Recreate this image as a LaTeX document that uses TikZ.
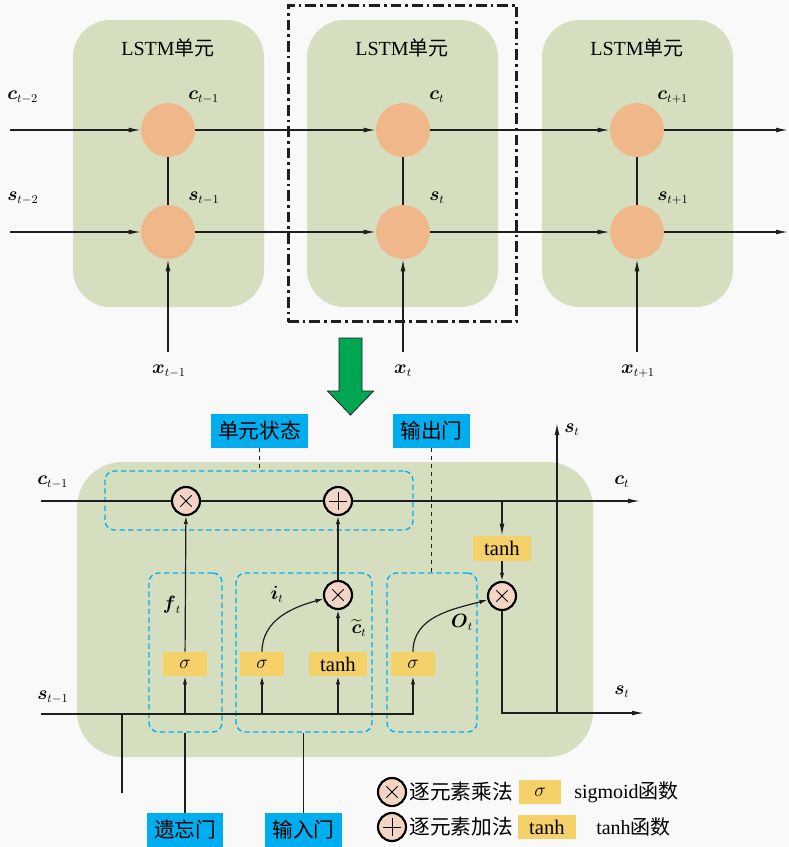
\documentclass[tikz,border=0pt]{standalone}
\usepackage{amsmath}
\usepackage{fontspec}
\setmainfont{Liberation Serif}
\newfontfamily\cjk{Noto Sans CJK SC}
\DeclareMathSizes{15}{15}{9}{7}
\usepackage{tikz}
\usetikzlibrary{positioning,arrows.meta,fit,calc}
\definecolor{cBack}{HTML}{F9F9F9}
\definecolor{cCell}{HTML}{D5DFBF}
\definecolor{cUnit}{HTML}{F0B88A}
\definecolor{cOp}  {HTML}{F2D5C4}
\definecolor{cGate}{HTML}{F5D16A}
\definecolor{cTag} {HTML}{00AEEF}
\definecolor{cArr} {HTML}{00A651}
\definecolor{cLine}{HTML}{1E1E1E}
\tikzset{
  >={Latex[length=9pt,width=3.6pt]},
  cbox/.style={fill=cCell,rounded corners=28pt,inner sep=0pt},
  focus/.style={draw=cLine,line width=2.3pt,dash pattern=on 8pt off 3pt on 2pt off 3pt},
  unit/.style={circle,fill=cUnit,minimum size=40.5pt,inner sep=0pt},
  opc/.style={circle,draw=black,line width=1.6pt,fill=cOp,minimum size=21pt,inner sep=0pt},
  omul/.style={opc,path picture={\draw[line width=0.6pt]
      (path picture bounding box.center) ++(45:6pt) -- ++(225:12pt)
      (path picture bounding box.center) ++(135:6pt) -- ++(-45:12pt);}},
  oadd/.style={opc,path picture={\draw[line width=0.7pt]
      (path picture bounding box.center) ++(0:6.5pt) -- ++(180:13pt)
      (path picture bounding box.center) ++(90:6.5pt) -- ++(270:13pt);}},
  gsig/.style={fill=cGate,minimum width=33pt,minimum height=18pt,inner sep=0pt,
               font=\fontsize{15}{16}\selectfont},
  gtanh/.style={gsig,minimum width=43.5pt,font=\fontsize{15.5}{16}\selectfont},
  gtag/.style={fill=cTag,minimum height=25.5pt,inner sep=0pt,
               font=\cjk\fontsize{15.5}{16}\selectfont},
  dbox/.style={draw=cTag,line width=1pt,dash pattern=on 4pt off 2.5pt,
               rounded corners=7pt,inner sep=0pt},
  lbl/.style={font=\fontsize{15}{16}\selectfont,inner sep=0pt},
  sar/.style={->,line width=0.9pt,cLine},
  sars/.style={sar,>={Latex[length=6pt,width=3.2pt]}},
  sln/.style={line width=0.9pt,cLine},
}
\begin{document}
\begin{tikzpicture}[x=0.75pt,y=-0.75pt]
  \useasboundingbox[fill=cBack] (0,0) rectangle (789,847);
  % chain of cells
  \node[cbox,fit={(73,20) (264,307)}] (cellA) {};
  \node[cbox,fit={(307,20) (498,307)}] (cellB) {};
  \node[cbox,fit={(542,20) (733,307)}] (cellC) {};
  \node[focus,fit=(cellB),inner xsep=14pt,inner ysep=11pt] (zoombox) {};
  \node[lbl] at (168,48) {LSTM{\cjk 单元}};
  \node[lbl] at (402,48) {LSTM{\cjk 单元}};
  \node[lbl] at (637,48) {LSTM{\cjk 单元}};
  \node[unit] (cA) at (168,130) {};
  \node[unit] (sA) at (168,232) {};
  \node[unit] (cB) at (403,130) {};
  \node[unit] (sB) at (403,232) {};
  \node[unit] (cC) at (637,130) {};
  \node[unit] (sC) at (637,232) {};
  \coordinate (cin) at (10,130);  \coordinate (cend) at (788,130);
  \coordinate (sin) at (10,232);  \coordinate (send) at (788,232);
  \coordinate (xA) at (168,352);  \coordinate (xB) at (403,352);
  \coordinate (xC) at (637,352);
  \draw[sar] (cin)--(cA); \draw[sar] (cA)--(cB);
  \draw[sar] (cB)--(cC); \draw[sar] (cC)--(cend);
  \draw[sar] (sin)--(sA); \draw[sar] (sA)--(sB);
  \draw[sar] (sB)--(sC); \draw[sar] (sC)--(send);
  \draw[sln] (cA)--(sA); \draw[sln] (cB)--(sB); \draw[sln] (cC)--(sC);
  \draw[sar] (xA)--(sA); \draw[sar] (xB)--(sB); \draw[sar] (xC)--(sC);
  \node[lbl,anchor=west] at (7,97) {$\boldsymbol{c}_{t-2}$};
  \node[lbl,anchor=west] at (7,198) {$\boldsymbol{s}_{t-2}$};
  \node[lbl,anchor=west] at (188,97) {$\boldsymbol{c}_{t-1}$};
  \node[lbl,anchor=west] at (188,198) {$\boldsymbol{s}_{t-1}$};
  \node[lbl,anchor=west] at (429,97) {$\boldsymbol{c}_{t}$};
  \node[lbl,anchor=west] at (429,198) {$\boldsymbol{s}_{t}$};
  \node[lbl,anchor=west] at (657,97) {$\boldsymbol{c}_{t+1}$};
  \node[lbl,anchor=west] at (657,198) {$\boldsymbol{s}_{t+1}$};
  \node[lbl] at (169,371) {$\boldsymbol{x}_{t-1}$};
  \node[lbl] at (403,371) {$\boldsymbol{x}_{t}$};
  \node[lbl] at (638,371) {$\boldsymbol{x}_{t+1}$};
  \draw[fill=cArr,line width=0.6pt,draw=cLine] (339,338) -- (362,338) -- (362,391)
    -- (373.5,391) -- (350.5,415) -- (327.5,391) -- (339,391) -- cycle;
  % inside one cell
  \node[cbox,rounded corners=34pt,fit={(77,462) (593,757)}] (cellbig) {};
  \node[dbox,fit={(105,471) (413,530)}] (stbox) {};
  \node[dbox,fit={(149,573) (222,732)}] (fbox) {};
  \node[dbox,fit={(236,573) (372,732)}] (ibox) {};
  \node[dbox,fit={(387,573) (477,732)}] (obox) {};
  \node[omul] (fmul) at (186,501) {};
  \node[oadd] (cadd) at (338,501) {};
  \node[omul] (imul) at (338,595) {};
  \node[omul] (oprod) at (502,596) {};
  \node[gsig] (fsig) at (185,664) {$\sigma$};
  \node[gsig] (isig) at (262,664) {$\sigma$};
  \node[gtanh] (itanh) at (338,664) {tanh};
  \node[gsig] (osig) at (413,664) {$\sigma$};
  \node[gtanh,minimum height=18.75pt] (otanh) at (502,548.5) {tanh};
  \node[gtag,minimum width=72.75pt] (sttag) at (259.5,431) {单元状态};
  \node[gtag,minimum width=57.75pt] (otag) at (431.5,431) {输出门};
  \node[gtag,minimum width=57pt] (ftag) at (185,830) {遗忘门};
  \node[gtag,minimum width=57.75pt] (itag) at (303.5,830) {输入门};
  \coordinate (cprev) at (41,501);  \coordinate (cnext) at (640,501);
  \coordinate (sprev) at (41,714);  \coordinate (tap) at (502,501);
  \coordinate (sjoin) at (557,713); \coordinate (stop) at (557,423);
  \coordinate (sout) at (644,713);  \coordinate (xin) at (122,793);
  \draw[sln] (cprev)--(fmul); \draw[sln] (fmul)--(cadd);
  \draw[sar] (cadd)--(cnext);
  \draw[sar] (tap)--(otanh); \draw[sars] (otanh)--(oprod);
  \draw[sars] (fsig)--(fmul);
  \draw[sars] (isig.north) to[out=90,in=195] (imul);
  \draw[sars] (itanh)--(imul); \draw[sars] (imul)--(cadd);
  \draw[sars] (osig.north) to[out=90,in=195] (oprod);
  \draw[sars] (sprev) -| (osig);
  \draw[sars] (fsig |- sprev)--(fsig);
  \draw[sars] (isig |- sprev)--(isig);
  \draw[sars] (itanh |- sprev)--(itanh);
  \draw[sln] (xin)--(xin |- sprev);
  \draw[sar] (oprod) |- (sout);
  \draw[sar] (sjoin)--(stop);
  \draw[sln] (ftag.north)--(ftag.north |- fbox.south);
  \draw[sln] (itag.north)--(itag.north |- ibox.south);
  \draw[sln,dashed] (sttag.south)--(sttag.south |- stbox.north);
  \draw[sln,dashed] (otag.south)--(otag.south |- obox.north);
  \node[lbl,anchor=west] at (37,482) {$\boldsymbol{c}_{t-1}$};
  \node[lbl,anchor=west] at (37,697) {$\boldsymbol{s}_{t-1}$};
  \node[lbl,anchor=west] at (614,482) {$\boldsymbol{c}_{t}$};
  \node[lbl,anchor=west] at (614,692) {$\boldsymbol{s}_{t}$};
  \node[lbl,anchor=west] at (564,430) {$\boldsymbol{s}_{t}$};
  \node[lbl] at (172,605) {$\boldsymbol{f}_{t}$};
  \node[lbl] at (277,594) {$\boldsymbol{i}_{t}$};
  \node[lbl] at (359,628) {$\widetilde{\boldsymbol{c}}_{t}$};
  \node[lbl] at (462,622) {$\boldsymbol{O}_{t}$};
  % legend
  \node[omul] (lmul) at (392,792) {};
  \node[lbl,font=\cjk\fontsize{15.5}{16}\selectfont,right=1.5pt of lmul] {逐元素乘法};
  \node[gsig,minimum width=32pt] (lsig) at (540,792) {$\sigma$};
  \node[lbl,anchor=west] at (574,792) {sigmoid{\cjk 函数}};
  \node[oadd] (ladd) at (392,827) {};
  \node[lbl,font=\cjk\fontsize{15.5}{16}\selectfont,right=1.5pt of ladd] {逐元素加法};
  \node[gtanh] (ltanh) at (547,827) {tanh};
  \node[lbl,anchor=west] at (596,827) {tanh{\cjk 函数}};
\end{tikzpicture}
\end{document}
